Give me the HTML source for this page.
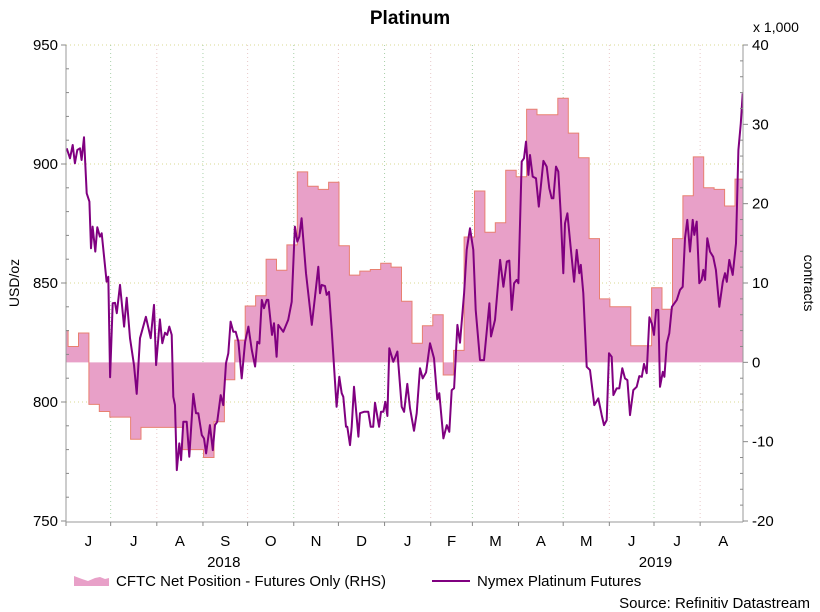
<!DOCTYPE html>
<html><head><meta charset="utf-8">
<style>
html,body{margin:0;padding:0;background:#fff;}
svg{display:block;font-family:"Liberation Sans",Arial,sans-serif;}
</style></head>
<body>
<svg id="chart" width="820" height="612" viewBox="0 0 820 612" xmlns="http://www.w3.org/2000/svg">
<text x="410" y="24" text-anchor="middle" font-size="19" font-weight="bold" fill="#000">Platinum</text>
<g id="grid"></g>
<defs><clipPath id="plotClip"><rect x="66" y="44" width="677" height="478"/></clipPath></defs>
<g id="series" clip-path="url(#plotClip)"></g>
<g id="axes"></g>
<text transform="translate(19,283) rotate(-90)" text-anchor="middle" font-size="14" fill="#000">USD/oz</text>
<text transform="translate(804,283) rotate(90)" text-anchor="middle" font-size="14" fill="#000">contracts</text>
<text x="776" y="32" text-anchor="middle" font-size="14" fill="#000">x 1,000</text>
<g>
<path d="M74 586 L74 576 L82 579 L88 581 L95 578 L100 577 L105 579 L109 578 L109 586 Z" fill="#e8a0c8"/>
<text x="116" y="586" font-size="15" fill="#000">CFTC Net Position - Futures Only (RHS)</text>
</g>
<g>
<line x1="432" y1="581" x2="470" y2="581" stroke="#800080" stroke-width="2"/>
<text x="477" y="586" font-size="15" fill="#000">Nymex Platinum Futures</text>
</g>
<text x="810" y="608" text-anchor="end" font-size="15" fill="#000">Source: Refinitiv Datastream</text>
</svg>
<script>
// CFTC weekly net position (thousand contracts), first week starts at day firstWeekDay
const cftcValues = [4.0,2.0,3.7,-5.3,-6.2,-6.9,-6.9,-9.7,-8.2,-8.2,-8.2,-8.2,-11.0,-11.0,-12.0,-7.5,-2.2,2.8,7.1,8.4,13.0,11.6,14.8,24.0,22.2,21.8,22.7,14.7,11.0,11.5,11.7,12.5,12.0,7.7,2.4,4.6,6.0,-1.6,1.5,15.8,21.6,16.4,17.6,24.2,23.4,31.9,31.2,31.2,33.3,28.9,25.8,15.6,8.0,7.0,7.0,2.1,2.1,9.4,6.7,15.6,21.0,25.9,22.0,21.8,19.7,23.1];
const firstWeekDay = -5.6;
// Price series: days since 2018-06-01 and USD/oz
const priceDays = [0.5,2.7,4.5,6,7.6,9.4,10.5,12.1,13.9,15.7,16.8,17.9,19.7,21,22.8,24,27.3,28.4,29.6,31.4,32.9,34.1,36.3,39,40.8,43,45.7,47.5,49.7,53.7,56.9,59.1,60.5,63.1,64.7,66.5,68,69.4,71,72.1,73.2,74.4,76.1,77.3,78.8,81.1,82.8,85.5,87.3,88.9,91.2,92.7,94.1,96.7,98.6,100.1,101.6,103.9,105.7,107.5,109,110.6,112.4,114,115.8,118,120.3,122.5,124.8,127,128.5,129.9,131.5,133,134.8,135.9,138.4,139.7,141.5,142.6,146,149.3,151.6,153.8,155.4,156.7,158.3,161.2,165.1,167.3,169.5,170.6,171.8,174,175.1,176.7,178.5,181.8,183.6,185.2,186.3,188.1,189,190.8,191.9,193.5,196.4,197.5,200.2,203.1,204.7,206.4,207.6,210.3,211.6,213.2,214.5,215.9,217.2,219.9,222.6,225.5,227.1,229.3,231.1,233.8,235.6,237.8,239.6,241.9,244.5,247.2,249.4,250.8,253.5,255.8,257.5,259.1,260.7,262.9,264.7,267.4,269.2,271.4,273.6,275.2,278.1,280.8,284.4,285.5,288.2,291.6,293.8,296.1,297.8,299.4,301,302.8,303.9,306.1,307.7,309,310.6,311.7,313.5,315.7,317.6,320.7,322.9,324.7,326.3,327.4,329.2,330.7,332.3,334.1,335.2,336.8,339,341.3,343.1,344.8,345.8,347.5,349.8,352,354.9,357.6,359.9,361.4,363.2,364.8,366.6,367.7,369.9,371.7,373.7,375.5,377.1,378.9,381.1,383.4,385.1,386.8,388.3,390.1,391.9,393.5,395,396.4,397.9,399,400.9,402,403.6,405.3,407,410.3,412.5,414.3,415.8,417.4,419.2,421,422.1,423.7,425.4,427,428.1,429.3,430.8,432.6,434.8,436.6,438.9,441.2,442.7,443.9,445.6,447.9,450.1,451.7,453.3,454.6];
const priceValues = [906.6,902.4,908,900.3,905.9,906.6,901.7,911.2,887.7,884.2,864.6,873.7,863.2,873.4,869.5,870.9,850.6,852.6,810.4,841.5,841.7,837.3,849.2,831.7,843.8,826.8,815.5,803.4,826.8,835.8,826.8,840.8,815.5,834.7,824.7,829.1,828.2,831.7,828.2,802.2,798.7,771.4,782.6,775.6,791.7,791.7,777,803.4,795.3,795.3,786.1,784.7,778.4,790.3,779.8,790.3,791.7,802.9,798.7,816.3,820.4,833.8,829.5,829.5,825.3,809.9,825.3,831.7,821.8,814.9,825.3,824.6,842.9,839.4,842.9,842.9,828.2,833.1,819,832.4,829.5,834.5,842.1,873.7,867.4,869.5,877.2,854.1,832.4,844.2,856.8,845.7,849.2,848.7,845,846.3,830.3,798,810.6,803.7,802.2,789.6,789.6,781.9,789.6,806.4,785.4,795.3,795.9,795.9,789.6,789.6,799.7,789.6,795.9,795.9,800.1,794.1,822.6,816.9,821.2,798,795.9,807.6,797.4,787.9,795.3,814.2,809.9,812.5,824.7,818.4,801.1,803.7,784.7,790.3,787.5,805,805.8,832.4,824.9,845.7,863.9,873,863.9,838.7,817.6,817.6,841.5,827.5,834.5,859.7,848.4,859,859.4,838.7,849.9,851.3,849.9,901,902.4,909.4,895.4,903.8,894.7,894,882.1,901.3,898.9,889.8,885.6,885.6,898.9,896.8,879.3,854.1,875.1,879.3,865.3,850.5,863.9,854.1,857.6,845.7,814.8,813.4,798.7,801.5,794.5,790.3,792.4,820.5,819,802.9,805.7,805.7,814.2,809.9,809.2,794.5,805,806.4,810.9,810.6,816,812.1,835.6,833,828.2,838.7,838.7,806.4,812.7,810.6,824.7,828.9,840,842.9,847.1,848.4,868.8,876.5,863.2,876.5,870.2,875.8,849.9,851.3,855.5,851.3,868.8,863.2,861,855.5,840,850.5,854.1,850.5,859.7,853.4,866.7,905.9,917.1,929.7];
const leftTicks = [750,800,850,900,950];
const rightTicks = [-20,-10,0,10,20,30,40];
const monthLabels = ["J","J","A","S","O","N","D","J","F","M","A","M","J","J","A"];
const monthStartDays = [0,30,61,92,122,153,183,214,245,273,304,334,365,395,426,457];
const yearLabels = ["2018","2019"];
const yearCenterDays = [106,396];

const NS="http://www.w3.org/2000/svg";
const X0=66, X1=743, PXD=1.4886, YT=45, YB=521;
function xs(d){return X0+d*PXD;}
function yl(p){return YB-(p-750)/200*(YB-YT);}
function yr(v){return YB-(v+20)/60*(YB-YT);}
function mk(tag,attrs,parent){const e=document.createElementNS(NS,tag);for(const k in attrs)e.setAttribute(k,attrs[k]);parent.appendChild(e);return e;}
const grid=document.getElementById('grid'), ser=document.getElementById('series'), axes=document.getElementById('axes');

// grid
leftTicks.forEach(function(t){
  if(t===750) return;
  const g=mk('line',{x1:X0,x2:X1,y1:yl(t),y2:yl(t),stroke:'#d8d890','stroke-width':1,'stroke-dasharray':'1,3'},grid);
  
  
});
monthStartDays.forEach(function(d,i){
  if(i===0||xs(d)>=X1) return;
  const g=mk('line',{x1:xs(d),x2:xs(d),y1:YT,y2:YB,stroke:(i%2?'#a8d0a8':'#e8c8c8'),'stroke-width':1,'stroke-dasharray':'1,3'},grid);
  
  
});

// CFTC step area
const y0=yr(0);
let pts=[];
cftcValues.forEach(function(v,k){
  const a=xs(firstWeekDay+7*k), b=xs(firstWeekDay+7*(k+1));
  pts.push([a,yr(v)],[b,yr(v)]);
});
let d='M'+pts[0][0]+' '+y0;
pts.forEach(function(p){d+=' L'+p[0].toFixed(1)+' '+p[1].toFixed(1);});
d+=' L'+pts[pts.length-1][0]+' '+y0+' Z';
const area=mk('path',{d:d,fill:'#e8a0c8',stroke:'none'},ser);


let e='';
pts.forEach(function(p,i){e+=(i?' L':'M')+p[0].toFixed(1)+' '+p[1].toFixed(1);});
const edge=mk('path',{d:e,fill:'none',stroke:'#e88070','stroke-width':1},ser);



// Price line
let pl='';
priceDays.forEach(function(dd,i){pl+=(i?' L':'M')+xs(dd).toFixed(1)+' '+yl(priceValues[i]).toFixed(1);});
const line=mk('path',{d:pl,fill:'none',stroke:'#800080','stroke-width':2,'stroke-linejoin':'round'},ser);



// axes
const la=mk('line',{x1:X0,x2:X0,y1:YT,y2:YB+1,stroke:'#999','stroke-width':1},axes);


const ra=mk('line',{x1:X1,x2:X1,y1:YT,y2:YB+1,stroke:'#999','stroke-width':1},axes);


const ba=mk('line',{x1:X0,x2:X1,y1:YB+1,y2:YB+1,stroke:'#999','stroke-width':1},axes);


for(let p=750;p<=950;p+=10){
  const major=leftTicks.indexOf(p)>=0;
  mk('line',{x1:X0-(major?5:0),x2:X0+(major?0:3),y1:yl(p),y2:yl(p),stroke:'#888','stroke-width':1},axes);
}
leftTicks.forEach(function(t){
  const tx=mk('text',{x:X0-8,y:yl(t)+5,'text-anchor':'end','font-size':15,fill:'#000'},axes);
  tx.textContent=t;
  
  
});
for(let v=-20;v<=40;v+=2){
  const major=rightTicks.indexOf(v)>=0;
  mk('line',{x1:X1-(major?0:3),x2:X1+(major?5:0),y1:yr(v),y2:yr(v),stroke:'#888','stroke-width':1},axes);
}
rightTicks.forEach(function(t){
  const tx=mk('text',{x:X1+9,y:yr(t)+5,'text-anchor':'start','font-size':15,fill:'#000'},axes);
  tx.textContent=t;
  
  
});
monthStartDays.forEach(function(dd){
  if(xs(dd)>X1) return;
  mk('line',{x1:xs(dd),x2:xs(dd),y1:YB+1,y2:YB+5,stroke:'#888','stroke-width':1},axes);
});
monthLabels.forEach(function(m,i){
  const c=(monthStartDays[i]+monthStartDays[i+1])/2;
  const tx=mk('text',{x:xs(c),y:546,'text-anchor':'middle','font-size':15,fill:'#000'},axes);
  tx.textContent=m;
  
  
});
yearLabels.forEach(function(yv,i){
  const tx=mk('text',{x:xs(yearCenterDays[i]),y:567,'text-anchor':'middle','font-size':15,fill:'#000'},axes);
  tx.textContent=yv;
  
  
});
</script>
</body></html>
